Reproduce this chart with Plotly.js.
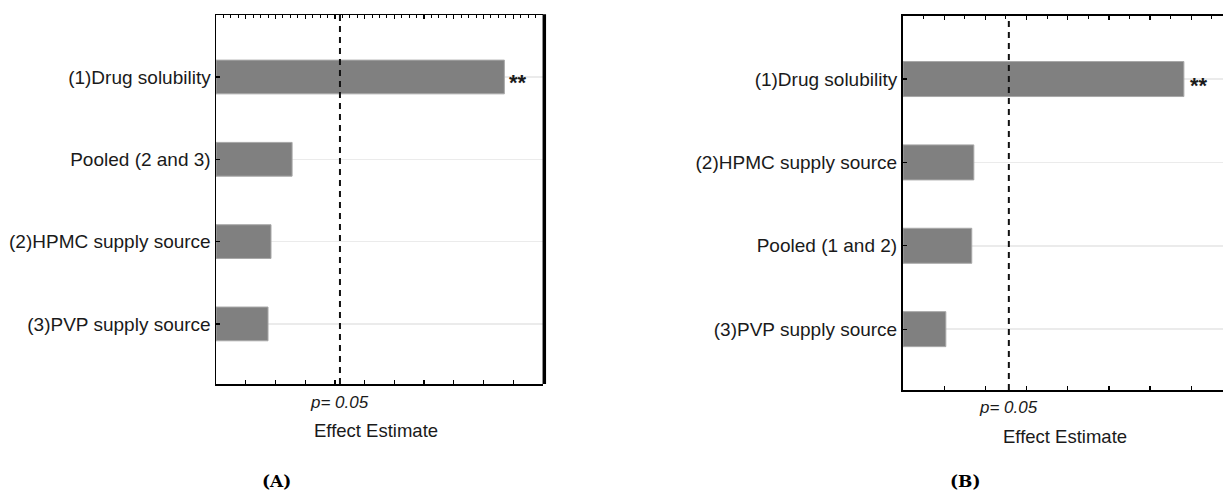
<!DOCTYPE html>
<html>
<head>
<meta charset="utf-8">
<script src="https://cdn.plot.ly/plotly-3.0.1.min.js"></script>
<style>
  html, body { margin: 0; padding: 0; background: #ffffff; }
  #chart { width: 1223px; height: 495px; }
</style>
</head>
<body>
<div id="chart"></div>
<script>
// Panel A data
const categoriesA = ["(1)Drug solubility", "Pooled (2 and 3)", "(2)HPMC supply source", "(3)PVP supply source"];
const effectsA = [9.70, 2.56, 1.85, 1.75];
const criticalA = 4.17;
const xMaxA = 11;

// Panel B data
const categoriesB = ["(1)Drug solubility", "(2)HPMC supply source", "Pooled (1 and 2)", "(3)PVP supply source"];
const effectsB = [6.82, 1.72, 1.67, 1.04];
const criticalB = 2.57;
const xMaxB = 7.77;

const significanceMark = "**";
const panelLabels = ["(A)", "(B)"];
const pLabel = "p= 0.05";
const xTitle = "Effect Estimate";

const W = 1223, H = 495;
const px = v => v / W;
const py = v => (H - v) / H;

const font = "Liberation Sans, Arial, sans-serif";
const txtColor = "#1a1a1a";

const barStyle = {
  color: "#808080",
  line: { color: "#a8a8a8", width: 1 }
};

const traces = [
  {
    type: "bar", orientation: "h",
    x: effectsA, y: categoriesA,
    xaxis: "x", yaxis: "y",
    width: 0.41,
    marker: barStyle,
    hoverinfo: "none"
  },
  {
    type: "bar", orientation: "h",
    x: effectsB, y: categoriesB,
    xaxis: "x2", yaxis: "y2",
    width: 0.42,
    marker: barStyle,
    hoverinfo: "none"
  },
  // invisible carriers so the top (mirror) axes are drawn
  {
    type: "scatter", mode: "markers", x: [0], y: [categoriesA[0]],
    xaxis: "x3", yaxis: "y", marker: { opacity: 0 }, hoverinfo: "none"
  },
  {
    type: "scatter", mode: "markers", x: [0], y: [categoriesB[0]],
    xaxis: "x4", yaxis: "y2", marker: { opacity: 0 }, hoverinfo: "none"
  }
];

const baseX = {
  showline: true, linecolor: "#000", linewidth: 1.5,
  ticks: "inside", ticklen: 4, tickwidth: 1.2, tickcolor: "#000",
  dtick: 1, tick0: 0,
  showticklabels: false, showgrid: false, zeroline: false, fixedrange: true
};
const topX = {
  showline: true, linecolor: "#000", linewidth: 1.5,
  ticks: "inside", ticklen: 4, tickwidth: 1.2, tickcolor: "#000",
  dtick: 1, tick0: 0,
  showticklabels: false, showgrid: false, zeroline: false, side: "top",
  fixedrange: true
};
const baseY = {
  type: "category",
  showline: true, linecolor: "#000", linewidth: 1.5,
  ticks: "inside", ticklen: 4, tickwidth: 1.2, tickcolor: "#000",
  showgrid: true, gridcolor: "#ebebeb", gridwidth: 1.5,
  zeroline: false, fixedrange: true,
  tickfont: { family: font, size: 19, color: txtColor }
};

const layout = {
  width: W, height: H,
  margin: { l: 0, r: 0, t: 0, b: 0 },
  paper_bgcolor: "#fff", plot_bgcolor: "#fff",
  showlegend: false,
  bargap: 0,
  xaxis: Object.assign({}, baseX, { domain: [px(216), px(543)], range: [0, xMaxA], anchor: "y" }),
  xaxis3: Object.assign({}, topX, { domain: [px(216), px(543)], range: [0, xMaxA], anchor: "y", overlaying: "x",
    minor: { dtick: 0.25, ticks: "inside", ticklen: 2.5, tickcolor: "#000", tickwidth: 1 } }),
  yaxis: Object.assign({}, baseY, {
    domain: [py(384), py(15)], anchor: "x",
    categoryorder: "array", categoryarray: categoriesA,
    range: [3.73, -0.753]
  }),
  xaxis2: Object.assign({}, baseX, { domain: [px(903), 1], range: [0, xMaxB], anchor: "y2", linewidth: 2 }),
  xaxis4: Object.assign({}, topX, { domain: [px(903), 1], range: [0, xMaxB], anchor: "y2", overlaying: "x2", linewidth: 2,
    minor: { dtick: 0.5, ticks: "inside", ticklen: 2.5, tickcolor: "#000", tickwidth: 1 } }),
  yaxis2: Object.assign({}, baseY, {
    domain: [py(390), py(16)], anchor: "x2", linewidth: 2,
    categoryorder: "array", categoryarray: categoriesB,
    range: [3.73, -0.756]
  }),
  shapes: [
    { type: "line", xref: "x", yref: "y domain", x0: criticalA, x1: criticalA, y0: 0, y1: 1,
      line: { color: "#111", width: 2, dash: "6px,5px" } },
    { type: "line", xref: "x2", yref: "y2 domain", x0: criticalB, x1: criticalB, y0: 0, y1: 1,
      line: { color: "#111", width: 2, dash: "6px,5px" } },
    { type: "line", xref: "x domain", yref: "y domain", x0: 1.004, x1: 1.004, y0: 0, y1: 1.002,
      line: { color: "#000", width: 3.5 } }
  ],
  annotations: [
    { xref: "x", yref: "y", x: effectsA[0], y: categoriesA[0], text: "<b>" + significanceMark + "</b>",
      xanchor: "left", yanchor: "middle", xshift: 3, yshift: -6, showarrow: false,
      font: { family: font, size: 22, color: txtColor } },
    { xref: "x2", yref: "y2", x: effectsB[0], y: categoriesB[0], text: "<b>" + significanceMark + "</b>",
      xanchor: "left", yanchor: "middle", xshift: 4, yshift: -6, showarrow: false,
      font: { family: font, size: 22, color: txtColor } },
    { xref: "x", yref: "paper", x: criticalA, y: py(402), text: "<i>" + pLabel + "</i>",
      xanchor: "center", yanchor: "middle", showarrow: false,
      font: { family: font, size: 17, color: txtColor } },
    { xref: "x2", yref: "paper", x: criticalB, y: py(407), text: "<i>" + pLabel + "</i>",
      xanchor: "center", yanchor: "middle", showarrow: false,
      font: { family: font, size: 17, color: txtColor } },
    { xref: "paper", yref: "paper", x: px(376), y: py(430), text: xTitle,
      xanchor: "center", yanchor: "middle", showarrow: false,
      font: { family: font, size: 18.5, color: txtColor } },
    { xref: "paper", yref: "paper", x: px(1065), y: py(436), text: xTitle,
      xanchor: "center", yanchor: "middle", showarrow: false,
      font: { family: font, size: 18.5, color: txtColor } },
    { xref: "paper", yref: "paper", x: px(276), y: py(481), text: "<b>" + panelLabels[0] + "</b>",
      xanchor: "center", yanchor: "middle", showarrow: false,
      font: { family: "DejaVu Serif, serif", size: 17, color: "#000" } },
    { xref: "paper", yref: "paper", x: px(965), y: py(481), text: "<b>" + panelLabels[1] + "</b>",
      xanchor: "center", yanchor: "middle", showarrow: false,
      font: { family: "DejaVu Serif, serif", size: 17, color: "#000" } }
  ]
};

Plotly.newPlot("chart", traces, layout, { displayModeBar: false, staticPlot: true });
</script>
</body>
</html>
